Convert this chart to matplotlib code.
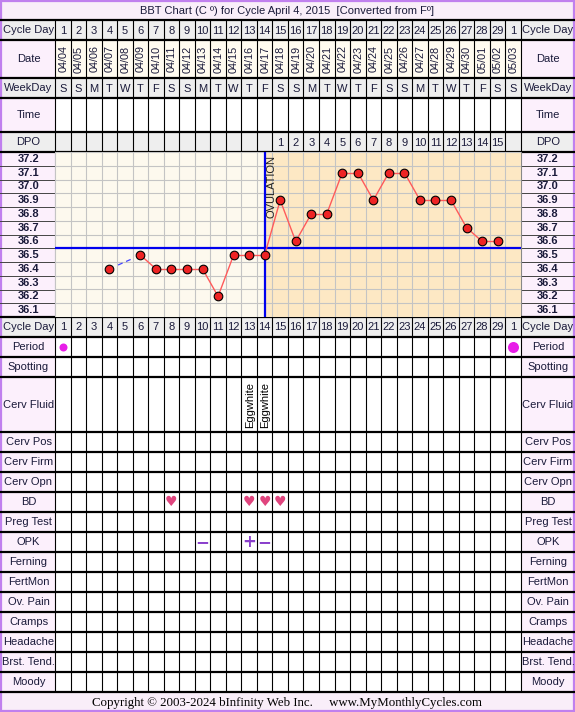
import matplotlib
matplotlib.use("Agg")
import matplotlib.pyplot as plt
from matplotlib.patches import Rectangle

# ---- data ----
title = "BBT Chart (C º) for Cycle April 4, 2015  [Converted from Fº]"
cycle_days = [1, 2, 3, 4, 5, 6, 7, 8, 9, 10, 11, 12, 13, 14, 15, 16, 17, 18, 19, 20,
              21, 22, 23, 24, 25, 26, 27, 28, 29, 1]
dates = ["04/04", "04/05", "04/06", "04/07", "04/08", "04/09", "04/10", "04/11",
         "04/12", "04/13", "04/14", "04/15", "04/16", "04/17", "04/18", "04/19",
         "04/20", "04/21", "04/22", "04/23", "04/24", "04/25", "04/26", "04/27",
         "04/28", "04/29", "04/30", "05/01", "05/02", "05/03"]
weekdays = ["S", "S", "M", "T", "W", "T", "F", "S", "S", "M", "T", "W", "T", "F", "S",
            "S", "M", "T", "W", "T", "F", "S", "S", "M", "T", "W", "T", "F", "S", "S"]
dpo = [None] * 14 + [1, 2, 3, 4, 5, 6, 7, 8, 9, 10, 11, 12, 13, 14, 15] + [None]
temps = [None, None, None, 36.4, None, 36.5, 36.4, 36.4, 36.4, 36.4, 36.2, 36.5,
         36.5, 36.5, 36.9, 36.6, 36.8, 36.8, 37.1, 37.1, 36.9, 37.1, 37.1, 36.9,
         36.9, 36.9, 36.7, 36.6, 36.6]
temp_labels = [37.2, 37.1, 37.0, 36.9, 36.8, 36.7, 36.6, 36.5, 36.4, 36.3, 36.2, 36.1]
ovulation_day = 14
coverline = 36.55
period_cols = [1, 30]
period_size = [8, 11]
cerv_fluid = {13: "Eggwhite", 14: "Eggwhite"}
bd_days = [8, 13, 14, 15]
opk = {10: "−", 13: "+", 14: "−"}

# ---- layout (pixels) ----
W, H = 575, 712
X0, CW, NC = 55, 15.53, 30
XR = X0 + CW * NC
CHART_TOP, CHART_BOT = 152, 317

top_rows = [("Cycle Day", 20, 40, "#eeeeee", "#eeeeee"),
            ("Date", 40, 78, "#fcf0fc", "#fffbf0"),
            ("WeekDay", 78, 98, "#eeeeee", "#eeeeee"),
            ("Time", 98, 132, "#fcf0fc", "white"),
            ("DPO", 132, 152, "#eeeeee", "#eeeeee")]
low_labels = ["Period", "Spotting", "Cerv Fluid", "Cerv Pos", "Cerv Firm", "Cerv Opn",
              "BD", "Preg Test", "OPK", "Ferning", "FertMon", "Ov. Pain", "Cramps",
              "Headache", "Brst. Tend.", "Moody"]
low_heights = [20, 20, 55, 20, 20, 20, 20, 20, 20, 20, 20, 20, 20, 20, 20, 20]

FONT = ["Liberation Sans", "DejaVu Sans"]
TXT = "#1a1a3a"
plt.rcParams["font.family"] = FONT

fig = plt.figure(figsize=(W / 100, H / 100), dpi=100)
ax = fig.add_axes([0, 0, 1, 1])
ax.set_xlim(0, W)
ax.set_ylim(H, 0)
ax.axis("off")


def cx(i):
    return X0 + (i - 0.5) * CW


def row_bg(top, bot, lab_bg, cell_bg):
    ax.add_patch(Rectangle((0, top), X0, bot - top, fc=lab_bg, ec="none"))
    ax.add_patch(Rectangle((XR, top), W - XR, bot - top, fc=lab_bg, ec="none"))
    ax.add_patch(Rectangle((X0, top), XR - X0, bot - top, fc=cell_bg, ec="none"))


def vlines(top, bot, color="black", lw=0.8):
    for i in range(NC + 1):
        x = X0 + i * CW
        ax.plot([x, x], [top, bot], color=color, lw=lw, solid_capstyle="butt")


def hline(y, lw=1.6, color="black"):
    ax.plot([0, W], [y, y], color=color, lw=lw, solid_capstyle="butt")


def labels(text, top, bot, bold=False):
    y = (top + bot) / 2
    w = "bold" if bold else "normal"
    ax.text(X0 / 2 + 1, y, text, ha="center", va="center", fontsize=8, color=TXT, fontweight=w)
    ax.text((XR + W) / 2, y, text, ha="center", va="center", fontsize=8, color=TXT, fontweight=w)


# title
ax.add_patch(Rectangle((0, 0), W, 20, fc="#f9eef9", ec="none"))
ax.text(W / 2, 10.5, title, ha="center", va="center", fontsize=8, color=TXT)

# top table
for name, top, bot, lbg, cbg in top_rows:
    row_bg(top, bot, lbg, cbg)
    vlines(top, bot)
    labels(name, top, bot)
    hline(top)
for i in range(1, NC + 1):
    ax.text(cx(i), 30.5, str(cycle_days[i - 1]), ha="center", va="center", fontsize=8, color=TXT)
    ax.text(cx(i) + 0.5, 59, dates[i - 1], ha="center", va="center", rotation=90, fontsize=7.8, color=TXT)
    ax.text(cx(i), 88.5, weekdays[i - 1], ha="center", va="center", fontsize=8, color=TXT)
    if dpo[i - 1] is not None:
        ax.text(cx(i), 142.5, str(dpo[i - 1]), ha="center", va="center", fontsize=8, color=TXT)
hline(CHART_TOP)

# temperature label columns
row_h = (CHART_BOT - CHART_TOP) / len(temp_labels)
for j, t in enumerate(temp_labels):
    top = CHART_TOP + j * row_h
    ax.add_patch(Rectangle((0, top), X0, row_h, fc="#fcf0fc", ec="none"))
    ax.add_patch(Rectangle((XR, top), W - XR, row_h, fc="#fcf0fc", ec="none"))
    labels(f"{t:.1f}", top, top + row_h, bold=True)
    if j > 0:
        for xa, xb in [(0, X0), (XR, W)]:
            ax.plot([xa, xb], [top, top], color="#444444", lw=0.7)
ax.plot([X0, X0], [CHART_TOP, CHART_BOT], color="#888888", lw=0.8)
ax.plot([XR, XR], [CHART_TOP, CHART_BOT], color="#888888", lw=0.8)

# lower table
y = CHART_BOT
row_bg(y, y + 20, "#eeeeee", "#eeeeee")
vlines(y, y + 20)
labels("Cycle Day", y, y + 20)
for i in range(1, NC + 1):
    ax.text(cx(i), y + 10.5, str(cycle_days[i - 1]), ha="center", va="center", fontsize=8, color=TXT)
hline(y)
y += 20
row_top = {}
for name, h in zip(low_labels, low_heights):
    row_bg(y, y + h, "#fcf0fc", "white")
    vlines(y, y + h)
    labels(name, y, y + h)
    hline(y)
    row_top[name] = (y, y + h)
    y += h
hline(y)

# lower table marks
t0, t1 = row_top["Period"]
for c, s in zip(period_cols, period_size):
    ax.plot(cx(c), (t0 + t1) / 2, "o", color="#e81ee8", ms=s * 0.72, mec="none")
t0, t1 = row_top["Cerv Fluid"]
for d, txt in cerv_fluid.items():
    ax.text(cx(d) + 0.5, (t0 + t1) / 2, txt, ha="center", va="center", rotation=90, fontsize=8, color="black")
t0, t1 = row_top["BD"]
for d in bd_days:
    ax.text(cx(d), (t0 + t1) / 2 + 0.5, "♥", ha="center", va="center", fontsize=10,
            color="#e0457e", family="DejaVu Sans")
t0, t1 = row_top["OPK"]
for d, s in opk.items():
    ax.text(cx(d), (t0 + t1) / 2, s, ha="center", va="center", fontsize=12, fontweight="bold",
            color="#8a3fcc", family="DejaVu Sans")

# copyright
ax.add_patch(Rectangle((0, y), W, H - y, fc="#f9eef9", ec="none"))
ax.text(W / 2, (y + H) / 2 + 1, "Copyright © 2003-2024 bInfinity Web Inc.     www.MyMonthlyCycles.com",
        ha="center", va="center", fontsize=9.3, family="Liberation Serif", color="black")

# outer border
ax.add_patch(Rectangle((1, 1), W - 2, H - 2, fc="none", ec="#c080ee", lw=1.6))

# ---- temperature chart ----
cax = fig.add_axes([X0 / W, 1 - CHART_BOT / H, (XR - X0) / W, (CHART_BOT - CHART_TOP) / H])
cax.set_xlim(0.5, NC + 0.5)
cax.set_ylim(36.05, 37.25)
cax.set_facecolor("#fdf9ee")
cax.axvspan(ovulation_day, NC + 0.5, color="#fde8c4", lw=0, zorder=0)
for i in range(NC + 1):
    cax.axvline(0.5 + i, color="#c4c4c4", lw=0.8, zorder=1)
for j in range(len(temp_labels) + 1):
    cax.axhline(36.05 + 0.1 * j, color="#c4c4c4", lw=0.8, zorder=1)
cax.axhline(coverline, color="#0000ee", lw=1.6, zorder=3)
cax.axvline(ovulation_day, color="#0000ee", lw=1.6, zorder=3)
cax.text(ovulation_day + 0.45, 37.225, "OVULATION", rotation=90, ha="center", va="top",
         fontsize=8, color="#222222", zorder=4)

pts = [(d, t) for d, t in zip(range(1, len(temps) + 1), temps) if t is not None]
for (d0, v0), (d1, v1) in zip(pts[:-1], pts[1:]):
    if d1 - d0 == 1:
        cax.plot([d0, d1], [v0, v1], color="#ff5a5a", lw=1.0, zorder=4)
    else:
        f = 0.28
        cax.plot([d0 + f * (d1 - d0), d1 - f * (d1 - d0)],
                 [v0 + f * (v1 - v0), v1 - f * (v1 - v0)],
                 color="#4444ff", lw=0.9, ls=(0, (4, 3)), zorder=4)
cax.plot([p[0] for p in pts], [p[1] for p in pts], "o", ls="none", ms=6.2,
         mfc="#ee2424", mec="black", mew=0.8, zorder=5)
cax.set_xticks([])
cax.set_yticks([])
for s in cax.spines.values():
    s.set_visible(False)

fig.savefig("out.png", dpi=100)
